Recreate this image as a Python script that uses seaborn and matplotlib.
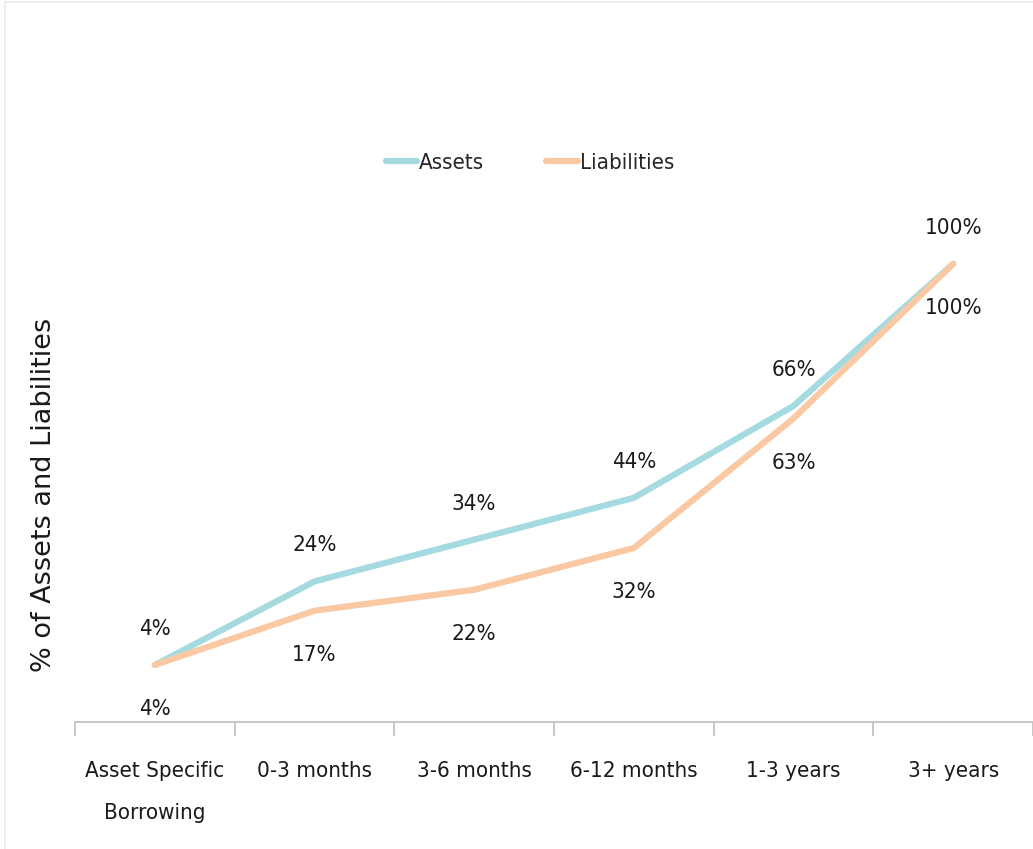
import matplotlib
matplotlib.use("Agg")
import matplotlib.pyplot as plt
from matplotlib.ticker import FixedLocator, NullFormatter
from matplotlib.lines import Line2D
import seaborn as sns
import pandas as pd

categories = ["Asset Specific\nBorrowing", "0-3 months", "3-6 months", "6-12 months", "1-3 years", "3+ years"]
assets = [4, 24, 34, 44, 66, 100]
liabilities = [4, 17, 22, 32, 63, 100]
series_names = ["Assets", "Liabilities"]
colors = {"Assets": "#A5DBE0", "Liabilities": "#FAC9A4"}

df = pd.concat([
    pd.DataFrame({"cat": categories, "value": assets, "series": "Assets"}),
    pd.DataFrame({"cat": categories, "value": liabilities, "series": "Liabilities"}),
])
df["x"] = df["cat"].map({c: i for i, c in enumerate(categories)})

sns.set_theme(style="white")
narrow = dict(family="DejaVu Sans", stretch="condensed")

W, H = 1033, 849
fig = plt.figure(figsize=(W / 100, H / 100), dpi=100)
ax = fig.add_axes([75 / W, (H - 722) / H, (1033 - 75) / W, (722 - 100) / H])

sns.lineplot(data=df, x="x", y="value", hue="series", palette=colors,
             hue_order=series_names, linewidth=4.5, ax=ax, legend=False,
             solid_capstyle="round")

ax.set_xlim(-0.5, len(categories) - 0.5)
ax.set_ylim(-9.64, 139.2)
ax.set_yticks([])
ax.set_ylabel("")
ax.set_xlabel("")
for s in ["top", "right", "left"]:
    ax.spines[s].set_visible(False)
ax.spines["bottom"].set_color("#BFBFBF")
ax.spines["bottom"].set_linewidth(1.2)

ax.set_xticks(range(len(categories)))
ax.set_xticklabels(categories, fontsize=16, color="#1a1a1a", linespacing=2.4, **narrow)
ax.tick_params(axis="x", which="major", length=0, pad=28)
ax.xaxis.set_minor_locator(FixedLocator([i - 0.5 for i in range(len(categories) + 1)]))
ax.xaxis.set_minor_formatter(NullFormatter())
ax.tick_params(axis="x", which="minor", length=10, width=1.2, color="#BFBFBF", bottom=True)

for i, v in enumerate(assets):
    ax.annotate(f"{v}%", (i, v), xytext=(0, 26), textcoords="offset points",
                ha="center", va="center", fontsize=16, color="#1a1a1a", **narrow)
for i, v in enumerate(liabilities):
    ax.annotate(f"{v}%", (i, v), xytext=(0, -32), textcoords="offset points",
                ha="center", va="center", fontsize=16, color="#1a1a1a", **narrow)

handles = [Line2D([], [], color=colors[n], linewidth=4.5) for n in series_names]
fig.legend(handles, series_names, loc="center", bbox_to_anchor=(530 / W, 1 - 163 / H),
           ncol=2, frameon=False, handlelength=1.4, handletextpad=0.1,
           columnspacing=2.8, prop={"size": 16, **narrow})

fig.text(44 / W, 1 - 495 / H, "% of Assets and Liabilities", rotation=90,
         ha="center", va="center", fontsize=19.5, color="#1a1a1a", family="DejaVu Sans")

# faint outer frame visible at top and left of the reference
fig.add_artist(Line2D([4.5 / W, 4.5 / W], [0, 1 - 2 / H], transform=fig.transFigure,
                      color="#EBEBEB", linewidth=1.2))
fig.add_artist(Line2D([4.5 / W, 1], [1 - 2 / H, 1 - 2 / H], transform=fig.transFigure,
                      color="#EBEBEB", linewidth=1.2))

fig.savefig("out.png", dpi=100)
